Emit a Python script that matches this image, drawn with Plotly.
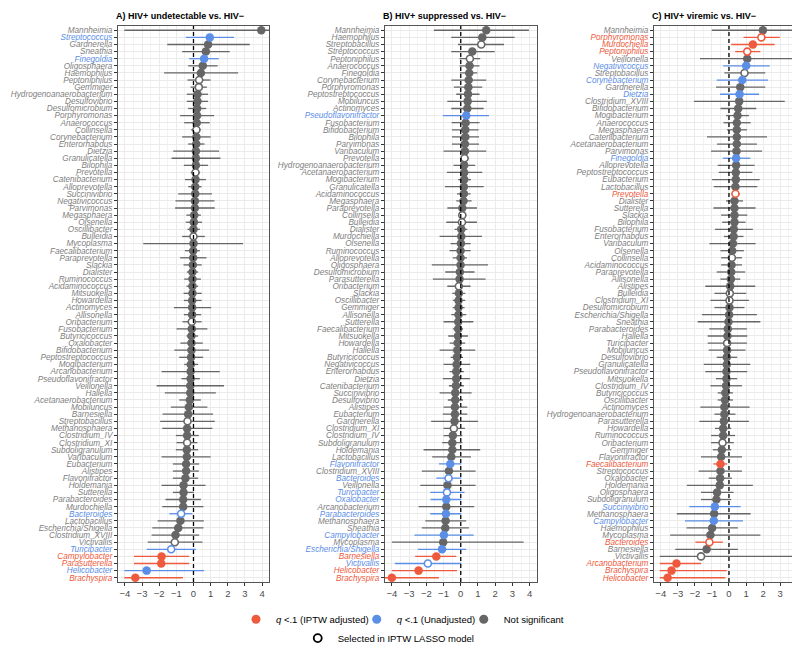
import plotly.graph_objects as go

# ---------------- Panel A: HIV+ undetectable vs. HIV- ----------------
A_genus = ["Mannheimia", "Streptococcus", "Gardnerella", "Sneathia", "Finegoldia", "Oligosphaera",
           "Haemophilus", "Peptoniphilus", "Gemmiger", "Hydrogenoanaerobacterium", "Desulfovibrio",
           "Desulfomicrobium", "Porphyromonas", "Anaerococcus", "Collinsella", "Corynebacterium",
           "Enterorhabdus", "Dietzia", "Granulicatella", "Bilophila", "Prevotella", "Catenibacterium",
           "Alloprevotella", "Succinivibrio", "Negativicoccus", "Parvimonas", "Megasphaera", "Olsenella",
           "Oscillibacter", "Bulleidia", "Mycoplasma", "Faecalibacterium", "Paraprevotella", "Slackia",
           "Dialister", "Ruminococcus", "Acidaminococcus", "Mitsuokella", "Howardella", "Actinomyces",
           "Allisonella", "Oribacterium", "Fusobacterium", "Butyricicoccus", "Oxalobacter",
           "Bifidobacterium", "Peptostreptococcus", "Mogibacterium", "Arcanobacterium",
           "Pseudoflavonifractor", "Veillonella", "Hallella", "Acetanaerobacterium", "Mobiluncus",
           "Barnesiella", "Streptobacillus", "Methanosphaera", "Clostridium_IV", "Clostridium_XI",
           "Subdoligranulum", "Varibaculum", "Eubacterium", "Alistipes", "Flavonifractor", "Holdemania",
           "Sutterella", "Parabacteroides", "Murdochiella", "Bacteroides", "Lactobacillus",
           "Escherichia/Shigella", "Clostridium_XVIII", "Victivallis", "Turicibacter", "Campylobacter",
           "Parasutterella", "Helicobacter", "Brachyspira"]
A_est = [3.95, 0.95, 0.85, 0.72, 0.62, 0.54, 0.43, 0.33, 0.31, 0.23, 0.23, 0.21, 0.21, 0.19, 0.17, 0.17,
         0.16, 0.14, 0.14, 0.14, 0.12, 0.12, 0.10, 0.10, 0.08, 0.08, 0.04, 0.02, 0.00, 0.00, 0.00, -0.02,
         -0.02, -0.04, -0.06, -0.06, -0.06, -0.06, -0.08, -0.08, -0.08, -0.10, -0.10, -0.12, -0.12, -0.12,
         -0.14, -0.16, -0.17, -0.17, -0.19, -0.19, -0.21, -0.27, -0.31, -0.35, -0.37, -0.37, -0.37, -0.39,
         -0.39, -0.43, -0.43, -0.47, -0.58, -0.58, -0.60, -0.60, -0.72, -0.76, -0.89, -1.05, -1.09, -1.30,
         -1.86, -1.88, -2.73, -3.39]
A_lo = [-4.03, -0.45, -1.53, -0.66, -0.25, -0.31, -1.71, -0.35, -0.17, -0.39, -0.39, -0.31, -0.78, -0.54,
        -0.14, -0.66, -0.31, -1.18, -1.28, -0.56, -0.16, -0.50, -0.31, -0.89, -1.05, -1.07, -0.41, -0.45,
        -0.35, -0.66, -2.93, -0.50, -0.78, -0.58, -0.39, -0.54, -0.41, -0.58, -0.56, -1.14, -0.56, -0.64,
        -0.99, -0.41, -0.76, -1.12, -0.83, -0.54, -1.86, -0.70, -2.15, -1.67, -0.83, -1.32, -1.80, -1.94,
        -1.82, -1.03, -0.99, -1.03, -1.86, -1.20, -1.20, -1.20, -1.86, -1.20, -1.63, -1.82, -1.41, -2.09,
        -2.40, -2.44, -2.67, -2.73, -3.47, -3.47, -4.03, -4.03]
A_hi = [4.40, 2.36, 3.28, 2.11, 1.47, 1.41, 2.60, 0.99, 0.78, 0.85, 0.85, 0.74, 1.20, 0.95, 0.41, 1.00,
        0.64, 1.49, 1.57, 0.85, 0.39, 0.72, 0.47, 1.07, 1.22, 1.24, 0.43, 0.50, 0.37, 0.66, 2.89, 0.37,
        0.76, 0.48, 0.27, 0.43, 0.27, 0.48, 0.47, 1.03, 0.45, 0.47, 0.81, 0.27, 0.54, 0.91, 0.56, 0.27,
        1.53, 0.37, 1.78, 1.30, 0.43, 0.81, 1.14, 1.24, 1.10, 0.31, 0.23, 0.27, 1.00, 0.33, 0.31, 0.27,
        0.70, 0.02, 0.43, 0.58, -0.06, 0.60, 0.58, 0.33, 0.52, 0.14, -0.25, -0.25, 0.62, -0.62]
A_adj = ["Campylobacter", "Parasutterella", "Brachyspira"]
A_unadj = ["Streptococcus", "Finegoldia", "Bacteroides", "Turicibacter", "Helicobacter"]
A_lasso = ["Peptoniphilus", "Gemmiger", "Collinsella", "Prevotella", "Bulleidia", "Oribacterium",
           "Streptobacillus", "Clostridium_XI", "Bacteroides", "Victivallis", "Turicibacter"]

# ---------------- Panel B: HIV+ suppressed vs. HIV- ----------------
B_genus = ["Mannheimia", "Haemophilus", "Streptobacillus", "Streptococcus", "Peptoniphilus", "Anaerococcus",
           "Finegoldia", "Corynebacterium", "Porphyromonas", "Peptostreptococcus", "Mobiluncus",
           "Actinomyces", "Pseudoflavonifractor", "Fusobacterium", "Bifidobacterium", "Bilophila",
           "Parvimonas", "Varibaculum", "Prevotella", "Hydrogenoanaerobacterium", "Acetanaerobacterium",
           "Mogibacterium", "Granulicatella", "Acidaminococcus", "Megasphaera", "Paraprevotella",
           "Collinsella", "Bulleidia", "Dialister", "Murdochiella", "Olsenella", "Ruminococcus",
           "Alloprevotella", "Oligosphaera", "Desulfomicrobium", "Parasutterella", "Oribacterium",
           "Slackia", "Oscillibacter", "Gemmiger", "Allisonella", "Sutterella", "Faecalibacterium",
           "Mitsuokella", "Howardella", "Hallella", "Butyricicoccus", "Negativicoccus", "Enterorhabdus",
           "Dietzia", "Catenibacterium", "Succinivibrio", "Desulfovibrio", "Alistipes", "Eubacterium",
           "Gardnerella", "Clostridium_XI", "Clostridium_IV", "Subdoligranulum", "Holdemania",
           "Lactobacillus", "Flavonifractor", "Clostridium_XVIII", "Bacteroides", "Veillonella",
           "Turicibacter", "Oxalobacter", "Arcanobacterium", "Parabacteroides", "Methanosphaera",
           "Sneathia", "Campylobacter", "Mycoplasma", "Escherichia/Shigella", "Barnesiella",
           "Victivallis", "Helicobacter", "Brachyspira"]
B_est = [1.48, 1.25, 1.19, 0.67, 0.53, 0.51, 0.49, 0.46, 0.44, 0.42, 0.40, 0.38, 0.32, 0.28, 0.26, 0.26,
         0.24, 0.24, 0.22, 0.20, 0.20, 0.20, 0.18, 0.18, 0.16, 0.09, 0.09, 0.07, 0.03, 0.03, 0.01, -0.01,
         -0.01, -0.01, -0.05, -0.07, -0.11, -0.11, -0.13, -0.13, -0.13, -0.15, -0.15, -0.16, -0.18, -0.20,
         -0.22, -0.24, -0.26, -0.26, -0.28, -0.32, -0.32, -0.34, -0.34, -0.36, -0.40, -0.46, -0.49, -0.49,
         -0.55, -0.61, -0.69, -0.71, -0.77, -0.80, -0.84, -0.84, -0.86, -0.88, -0.90, -0.98, -1.02, -1.09,
         -1.42, -1.91, -2.45, -4.00]
B_lo = [-1.56, -0.55, -0.16, -0.55, -0.07, -0.07, -0.05, -0.55, -0.40, -0.26, -0.78, -0.55, -1.04, -0.53,
        -0.51, -0.51, -0.51, -1.00, -0.01, -0.42, -0.80, -0.15, -0.92, -0.22, -0.26, -0.78, -0.16, -0.84,
        -0.36, -1.23, -0.59, -0.65, -0.46, -1.68, -0.90, -1.62, -0.78, -0.49, -0.46, -0.46, -0.55, -1.00,
        -0.46, -0.73, -0.65, -1.23, -0.59, -1.00, -0.65, -1.04, -0.69, -1.23, -0.75, -1.00, -1.04, -1.72,
        -1.00, -1.00, -1.08, -2.16, -1.66, -1.27, -2.26, -1.42, -2.35, -1.77, -1.75, -2.45, -1.77, -2.06,
        -2.26, -2.69, -4.00, -2.49, -2.65, -3.83, -4.00, -4.40]
B_hi = [3.96, 3.13, 2.51, 1.97, 1.13, 1.09, 0.96, 1.48, 1.25, 1.09, 1.52, 1.33, 1.64, 1.09, 1.04, 1.06,
        1.06, 1.48, 0.47, 0.84, 1.25, 0.59, 1.33, 0.57, 0.63, 0.94, 0.32, 0.94, 0.38, 1.23, 0.57, 0.57,
        0.36, 1.58, 0.80, 1.44, 0.57, 0.26, 0.26, 0.22, 0.32, 0.73, 0.13, 0.42, 0.26, 0.84, 0.13, 0.55,
        0.18, 0.53, 0.18, 0.63, 0.13, 0.38, 0.38, 1.00, 0.24, 0.09, 0.09, 1.13, 0.59, 0.03, 0.86, 0.03,
        0.86, 0.22, 0.03, 0.78, 0.03, 0.32, 0.47, 0.75, 3.65, 0.32, -0.26, 0.03, -0.22, -1.27]
B_adj = ["Barnesiella", "Helicobacter", "Brachyspira"]
B_unadj = ["Pseudoflavonifractor", "Flavonifractor", "Bacteroides", "Turicibacter", "Oxalobacter",
           "Parabacteroides", "Campylobacter", "Escherichia/Shigella", "Victivallis"]
B_lasso = ["Streptobacillus", "Peptoniphilus", "Prevotella", "Collinsella", "Bulleidia", "Oribacterium",
           "Clostridium_XI", "Bacteroides", "Turicibacter", "Victivallis"]

# ---------------- Panel C: HIV+ viremic vs. HIV- ----------------
C_genus = ["Mannheimia", "Porphyromonas", "Murdochiella", "Peptoniphilus", "Veillonella", "Negativicoccus",
           "Streptobacillus", "Corynebacterium", "Gardnerella", "Dietzia", "Clostridium_XVIII",
           "Bifidobacterium", "Mogibacterium", "Anaerococcus", "Megasphaera", "Catenibacterium",
           "Acetanaerobacterium", "Parvimonas", "Finegoldia", "Alloprevotella", "Peptostreptococcus",
           "Eubacterium", "Lactobacillus", "Prevotella", "Dialister", "Sutterella", "Slackia", "Bilophila",
           "Fusobacterium", "Enterorhabdus", "Varibaculum", "Olsenella", "Collinsella", "Acidaminococcus",
           "Paraprevotella", "Allisonella", "Alistipes", "Bulleidia", "Clostridium_XI", "Desulfomicrobium",
           "Escherichia/Shigella", "Sneathia", "Parabacteroides", "Hallella", "Turicibacter", "Mobiluncus",
           "Desulfovibrio", "Granulicatella", "Pseudoflavonifractor", "Mitsuokella", "Clostridium_IV",
           "Butyricicoccus", "Oscillibacter", "Actinomyces", "Hydrogenoanaerobacterium", "Parasutterella",
           "Howardella", "Ruminococcus", "Oribacterium", "Gemmiger", "Flavonifractor", "Faecalibacterium",
           "Streptococcus", "Oxalobacter", "Holdemania", "Oligosphaera", "Subdoligranulum", "Succinivibrio",
           "Methanosphaera", "Campylobacter", "Haemophilus", "Mycoplasma", "Bacteroides", "Barnesiella",
           "Victivallis", "Arcanobacterium", "Brachyspira", "Helicobacter"]
C_est = [1.99, 1.90, 1.40, 1.07, 1.07, 1.01, 0.91, 0.78, 0.66, 0.62, 0.60, 0.54, 0.50, 0.46, 0.46, 0.46,
         0.46, 0.44, 0.42, 0.42, 0.40, 0.40, 0.38, 0.38, 0.32, 0.32, 0.32, 0.32, 0.28, 0.27, 0.23, 0.19,
         0.17, 0.15, 0.13, 0.11, 0.07, 0.05, 0.03, 0.03, 0.01, -0.03, -0.07, -0.09, -0.11, -0.11, -0.13,
         -0.13, -0.15, -0.15, -0.17, -0.21, -0.23, -0.27, -0.27, -0.30, -0.34, -0.34, -0.38, -0.42, -0.46,
         -0.50, -0.50, -0.52, -0.54, -0.70, -0.74, -0.83, -0.87, -0.89, -0.99, -1.09, -1.15, -1.31, -1.64,
         -3.08, -3.37, -3.60]
C_lo = [-1.01, 0.85, 0.13, 0.36, -1.70, -0.34, -0.27, -0.72, -0.76, -0.52, -2.05, -0.50, -0.17, -0.32,
        -0.11, -1.29, -0.70, -1.05, -0.36, -0.66, -0.60, -0.99, -0.89, 0.15, -0.17, -0.91, -0.46, -0.40,
        -0.82, -0.30, -1.15, -0.50, -0.46, -0.46, -0.72, -0.50, -1.39, -0.85, -1.09, -0.85, -1.58, -1.84,
        -1.15, -1.25, -1.25, -1.19, -0.72, -1.48, -1.39, -0.76, -1.09, -0.66, -0.66, -1.68, -0.85, -1.74,
        -0.82, -1.05, -1.05, -0.95, -1.64, -0.91, -1.78, -1.19, -2.47, -1.64, -1.64, -2.33, -3.06, -2.58,
        -2.49, -3.45, -1.97, -3.15, -4.06, -4.06, -4.06, -4.06]
C_hi = [4.02, 2.98, 2.68, 1.84, 3.86, 2.39, 2.13, 2.29, 2.13, 1.76, 3.27, 1.60, 1.17, 1.27, 1.05, 2.23,
        1.64, 1.94, 1.25, 1.50, 1.37, 1.80, 1.66, 0.64, 0.82, 1.56, 1.07, 0.97, 1.40, 0.85, 1.56, 0.87,
        0.76, 0.76, 0.95, 0.66, 1.54, 1.01, 1.17, 0.91, 1.64, 1.84, 1.05, 1.07, 1.05, 0.97, 0.48, 1.25,
        1.07, 0.48, 0.76, 0.23, 0.23, 1.21, 0.38, 1.17, 0.13, 0.36, 0.28, 0.13, 0.76, -0.11, 0.76, 0.17,
        1.40, 0.27, 0.13, 0.68, 1.27, 0.82, 0.52, 1.84, -0.36, 0.52, 4.02, -1.64, -0.13, -0.21]
C_adj = ["Porphyromonas", "Murdochiella", "Peptoniphilus", "Prevotella", "Faecalibacterium", "Bacteroides",
         "Arcanobacterium", "Brachyspira", "Helicobacter"]
C_unadj = ["Negativicoccus", "Corynebacterium", "Dietzia", "Finegoldia", "Succinivibrio", "Campylobacter"]
C_lasso = ["Porphyromonas", "Peptoniphilus", "Streptobacillus", "Prevotella", "Collinsella", "Bulleidia",
           "Clostridium_XI", "Turicibacter", "Oribacterium", "Bacteroides", "Victivallis"]

titles = ["A) HIV+ undetectable vs. HIV−", "B) HIV+ suppressed vs. HIV−", "C) HIV+ viremic vs. HIV−"]
x_ticks = [-4, -3, -2, -1, 0, 1, 2, 3, 4]
legend_labels = ["<i>q</i> &lt;.1 (IPTW adjusted)", "<i>q</i> &lt;.1 (Unadjusted)", "Not significant",
                 "Selected in IPTW LASSO model"]

# ---------------- styling ----------------
FONT = "Liberation Sans, Arial, sans-serif"
COL = {"adj": "#EE5A3D", "unadj": "#5B8EE6", "ns": "#666666"}
LAB = {"adj": "#EE5A3D", "unadj": "#5B8EE6", "ns": "#808080"}
domains = [[0.0, 0.2201], [0.3892, 0.6101], [0.7813, 1.0]]

panels = [
    (A_genus, A_est, A_lo, A_hi, A_adj, A_unadj, A_lasso),
    (B_genus, B_est, B_lo, B_hi, B_adj, B_unadj, B_lasso),
    (C_genus, C_est, C_lo, C_hi, C_adj, C_unadj, C_lasso),
]

fig = go.Figure()
layout_axes = {}
shapes = []
annotations = []

for k, (genus, est, lo, hi, adj, unadj, lasso) in enumerate(panels):
    n = len(genus)
    xa = "x" if k == 0 else f"x{k+1}"
    ya = "y" if k == 0 else f"y{k+1}"
    sig = ["adj" if g in adj else ("unadj" if g in unadj else "ns") for g in genus]
    for s in ["ns", "unadj", "adj"]:
        for is_open in [False, True]:
            idx = [i for i in range(n) if sig[i] == s and ((genus[i] in lasso) == is_open)]
            if not idx:
                continue
            fig.add_trace(go.Scatter(
                x=[est[i] for i in idx], y=[genus[i] for i in idx], mode="markers",
                error_x=dict(type="data", symmetric=False,
                             array=[hi[i] - est[i] for i in idx],
                             arrayminus=[est[i] - lo[i] for i in idx],
                             color=COL[s], thickness=1.3, width=0),
                marker=dict(size=7 if is_open else 8.5,
                            color="white" if is_open else COL[s],
                            line=dict(color=COL[s], width=1.6 if is_open else 0)),
                xaxis=xa, yaxis=ya, showlegend=False, hoverinfo="skip"))

    ticktext = [f'<span style="color:{LAB[s]}"><i>{g}</i></span>' for g, s in zip(genus, sig)]
    xkey = "xaxis" if k == 0 else f"xaxis{k+1}"
    ykey = "yaxis" if k == 0 else f"yaxis{k+1}"
    layout_axes[xkey] = dict(
        domain=domains[k], anchor=ya, range=[-4.4, 4.4], tickmode="array", tickvals=x_ticks,
        ticks="outside", ticklen=3, tickcolor="#333333", tickwidth=1,
        showline=True, mirror=True, linecolor="#555555", linewidth=1,
        showgrid=True, gridcolor="#EBEBEB", gridwidth=1, zeroline=False,
        minor=dict(dtick=0.5, tick0=0, showgrid=True, gridcolor="#F3F3F3", gridwidth=0.6),
        tickfont=dict(family=FONT, size=9.5, color="#4D4D4D"))
    layout_axes[ykey] = dict(
        domain=[0, 1], anchor=xa, type="category", categoryorder="array",
        categoryarray=list(reversed(genus)), range=[-0.6, n - 0.4],
        tickmode="array", tickvals=genus, ticktext=ticktext,
        ticks="outside", ticklen=3, tickcolor="#333333", tickwidth=1,
        showline=True, mirror=True, linecolor="#555555", linewidth=1,
        showgrid=True, gridcolor="#EBEBEB", gridwidth=0.8, zeroline=False, automargin=False,
        tickfont=dict(family=FONT, size=8.2, color="#808080"))
    shapes.append(dict(type="line", xref=xa, yref=f"{ya} domain", x0=0, x1=0, y0=0, y1=1,
                       line=dict(color="black", width=1.3, dash="4px,3px"), layer="above"))
    annotations.append(dict(text=f"<b>{titles[k]}</b>", xref="paper", yref="paper",
                            x=domains[k][0], y=1.0177, xanchor="left", yanchor="middle", xshift=-4,
                            showarrow=False, font=dict(family=FONT, size=9, color="black")))

# legend entries (each in its own legend box for ggplot-like placement)
legend_names = ["legend", "legend2", "legend3", "legend4"]
for s, lab, lg in zip(["adj", "unadj", "ns"], legend_labels[:3], legend_names[:3]):
    fig.add_trace(go.Scatter(x=[None], y=[None], mode="markers", name=lab,
                             marker=dict(size=9, color=COL[s]), legend=lg,
                             xaxis="x", yaxis="y"))
fig.add_trace(go.Scatter(x=[None], y=[None], mode="markers", name=legend_labels[3],
                         marker=dict(size=8, color="white", line=dict(color="black", width=1.8)),
                         legend="legend4", xaxis="x", yaxis="y"))

def leg(x, y):
    return dict(orientation="h", x=x, y=y, xanchor="left", yanchor="middle",
                font=dict(family=FONT, size=9.5, color="black"), bgcolor="rgba(0,0,0,0)")

fig.update_layout(
    width=800, height=649,
    margin=dict(l=110, r=4, t=18, b=66),
    paper_bgcolor="white", plot_bgcolor="white",
    font=dict(family=FONT, color="black"),
    shapes=shapes, annotations=annotations,
    legend=leg(0.172, -0.067),
    legend2=leg(0.348, -0.067),
    legend3=leg(0.504, -0.067),
    legend4=leg(0.262, -0.1009),
    **layout_axes,
)

fig.write_html("out.html")
